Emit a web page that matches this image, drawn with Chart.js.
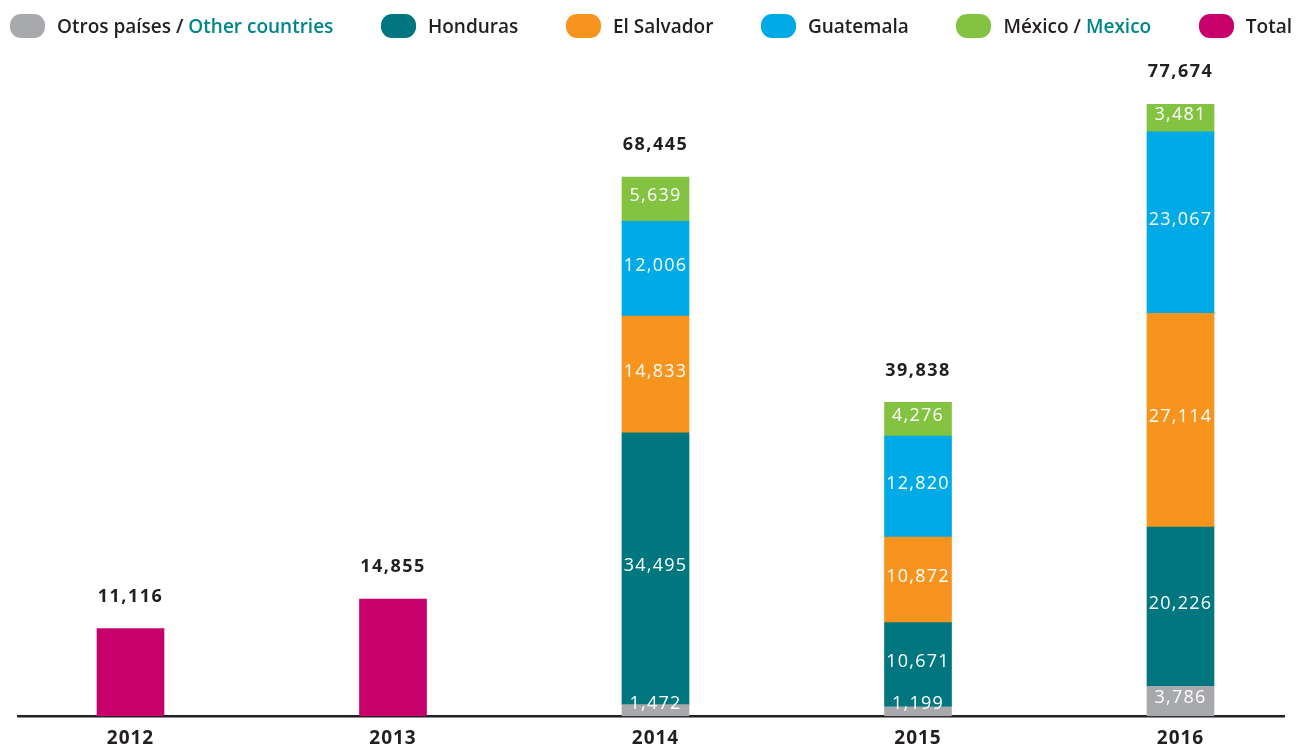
<!DOCTYPE html>
<html>
<head>
<meta charset="utf-8">
<script src="https://cdn.jsdelivr.net/npm/chart.js@4.4.0/dist/chart.umd.min.js"></script>
<style>
	body { margin: 0; background: #fff; }
	#wrap { position: relative; width: 1296px; height: 747px; }
	#legend {
		position: absolute; left: 10px; right: 4px; top: 12px; height: 28px;
		display: flex; justify-content: space-between; align-items: center;
		font-family: "Open Sans", sans-serif; font-weight: 600; font-size: 19px; color: #231f20;
	}
	.item { display: flex; align-items: center; white-space: nowrap; }
	.swatch { width: 35px; height: 24px; border-radius: 11px; margin-right: 12px; }
	.alt { color: #00858b; }
</style>
</head>
<body>
<div id="wrap">
	<canvas id="chart" width="1296" height="747"></canvas>
	<div id="legend"></div>
</div>
<script>
'use strict'

// data
let years = ['2012', '2013', '2014', '2015', '2016'];
let otros = [null, null, 1472, 1199, 3786];
let honduras = [null, null, 34495, 10671, 20226];
let elSalvador = [null, null, 14833, 10872, 27114];
let guatemala = [null, null, 12006, 12820, 23067];
let mexico = [null, null, 5639, 4276, 3481];
let total = [11116, 14855, null, null, null];
let totals = [11116, 14855, 68445, 39838, 77674];

let seriesNames = [
	['Otros países / ', 'Other countries'],
	['Honduras', ''],
	['El Salvador', ''],
	['Guatemala', ''],
	['México / ', 'Mexico'],
	['Total', '']
];
let seriesColors = ['#a7a9ac', '#00777f', '#f7941e', '#00aae6', '#83c341', '#c8006b'];
let seriesValues = [otros, honduras, elSalvador, guatemala, mexico, total];

let dark = '#231f20';
let font = '"Open Sans", sans-serif';

// html legend (two-colour names)
let legendDiv = document.getElementById('legend');
seriesNames.forEach((name, i) => {
	let item = document.createElement('div');
	item.className = 'item';
	item.innerHTML = '<span class="swatch" style="background:' + seriesColors[i] + '"></span>' +
		'<span>' + name[0] + '<span class="alt">' + name[1] + '</span></span>';
	legendDiv.appendChild(item);
});

let fmt = (v) => v.toLocaleString('en-US');

let labelPlugin = {
	id: 'labels',
	beforeDraw: (chart) => {
		chart.ctx.letterSpacing = '1px';
	},
	afterDatasetsDraw: (chart) => {
		let ctx = chart.ctx;
		let yScale = chart.scales.y;
		let base = yScale.getPixelForValue(0);
		ctx.save();
		ctx.textAlign = 'center';
		ctx.textBaseline = 'middle';
		// values inside the segments
		ctx.fillStyle = '#fff';
		ctx.font = '18px ' + font;
		ctx.letterSpacing = '1.2px';
		for (let d = 0; d < 5; d++) {
			let meta = chart.getDatasetMeta(d);
			meta.data.forEach((bar, i) => {
				let v = seriesValues[d][i];
				if (v == null) {
					return;
				}
				let y = Math.min((bar.y + bar.base) / 2 - 3, base - 12);
				ctx.fillText(fmt(v), bar.x, y);
			});
		}
		// totals above the stacks
		ctx.fillStyle = dark;
		ctx.font = 'bold 18px ' + font;
		ctx.letterSpacing = '1.5px';
		let xScale = chart.scales.x;
		totals.forEach((t, i) => {
			ctx.fillText(fmt(t), xScale.getPixelForValue(i), yScale.getPixelForValue(t) - 32);
		});
		ctx.restore();
	}
};

let datasets = seriesValues.map((vals, i) => ({
	label: seriesNames[i].join(''),
	data: vals.map((v, k) => ({ x: k, y: v })),
	backgroundColor: seriesColors[i],
	borderWidth: 0,
	barThickness: 67,
	stack: 's'
}));

new Chart(document.getElementById('chart'), {
	type: 'bar',
	data: { datasets: datasets },
	options: {
		responsive: false,
		animation: false,
		layout: { padding: { left: 18, right: 12, top: 86, bottom: -14 } },
		plugins: { legend: { display: false }, tooltip: { enabled: false } },
		scales: {
			x: {
				type: 'linear',
				stacked: true,
				offset: false,
				min: -0.4286,
				max: 4.3943,
				afterBuildTicks: (axis) => {
					axis.ticks = years.map((y, i) => ({ value: i }));
				},
				grid: { display: false, drawTicks: false, offset: false },
				border: { display: true, color: dark, width: 2.5 },
				ticks: {
					padding: 11,
					color: dark,
					font: { family: font, size: 19, weight: 'bold' },
					callback: (v) => years[v]
				}
			},
			y: {
				stacked: true,
				display: false,
				min: 0,
				max: 80000
			}
		}
	},
	plugins: [labelPlugin]
});
</script>
</body>
</html>
